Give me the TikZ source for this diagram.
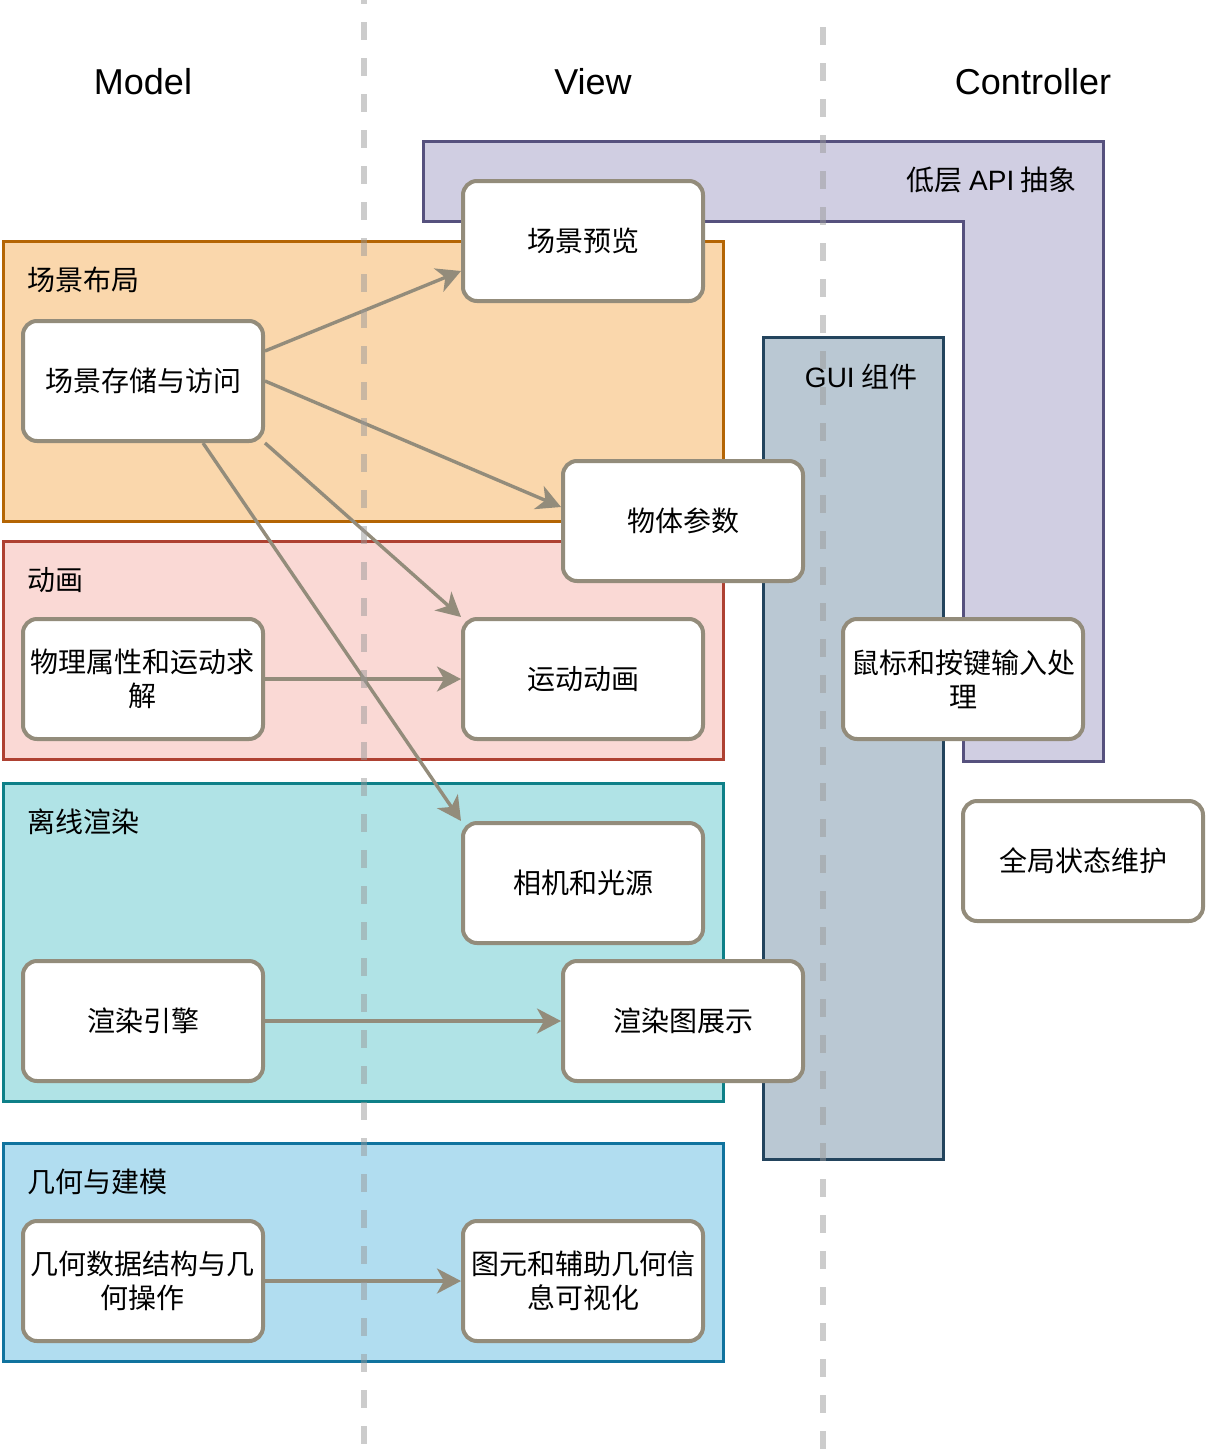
\documentclass[tikz,border=0pt]{standalone}
\usepackage{fontspec}
\setmainfont{Liberation Sans}
\newfontfamily\cjk{Noto Sans CJK SC}
\usetikzlibrary{arrows.meta}
\definecolor{nodeline}{HTML}{938C7B}
\definecolor{layoutfill}{HTML}{FAD7AC}
\definecolor{layoutline}{HTML}{B46504}
\definecolor{animfill}{HTML}{FAD9D5}
\definecolor{animline}{HTML}{AE4132}
\definecolor{renderfill}{HTML}{B0E3E6}
\definecolor{renderline}{HTML}{0E8088}
\definecolor{geomfill}{HTML}{B1DDF0}
\definecolor{geomline}{HTML}{10739E}
\definecolor{apifill}{HTML}{D0CEE2}
\definecolor{apiline}{HTML}{56517E}
\definecolor{guifill}{HTML}{BAC8D3}
\definecolor{guiline}{HTML}{23445D}
\begin{document}
\begin{tikzpicture}[
  x=0.5pt, y=-0.5pt,
  every node/.style = {font=\fontsize{14}{17}\selectfont},
  lane/.style = {line width=1.5pt},
  task/.style = {shape=rectangle, rounded corners=7pt, draw=nodeline, fill=white,
    line width=2pt, minimum width=120pt, minimum height=60pt, align=center,
    inner sep=2pt, font=\cjk\fontsize{14}{17}\selectfont},
  lanelabel/.style = {inner sep=0pt, font=\cjk\fontsize{14}{17}\selectfont},
  link/.style = {draw=nodeline, line width=1.7pt,
    -{Stealth[length=12pt,width=12.5pt,inset=3.5pt]}},
  divider/.style = {draw=black!40, opacity=0.5, line width=3pt,
    dash pattern=on 9pt off 9pt},
  header/.style = {font=\fontsize{18}{22}\selectfont}
]
  \useasboundingbox (0,0) rectangle (1206,1456);

  \node[header] (hmodel) at (143,82) {Model};
  \node[header] (hview) at (593,82) {View};
  \node[header] (hctrl) at (1033,82) {Controller};

  \draw[lane, fill=layoutfill, draw=layoutline] (3,241) rectangle (723,521);
  \draw[lane, fill=animfill, draw=animline] (3,541) rectangle (723,759);
  \draw[lane, fill=renderfill, draw=renderline] (3,783) rectangle (723,1101);
  \draw[lane, fill=geomfill, draw=geomline] (3,1143) rectangle (723,1361);
  \draw[lane, fill=apifill, draw=apiline] (423,141) -- (1103,141) -- (1103,761)
    -- (963,761) -- (963,221) -- (423,221) -- cycle;
  \draw[lane, fill=guifill, draw=guiline] (763,337) rectangle (943,1159);

  \node[lanelabel, anchor=west] (llayout) at (27,280) {场景布局};
  \node[lanelabel, anchor=west] (lanim) at (27,580) {动画};
  \node[lanelabel, anchor=west] (lrender) at (27,822) {离线渲染};
  \node[lanelabel, anchor=west] (lgeom) at (27,1182) {几何与建模};
  \node[lanelabel, anchor=east] (lapi) at (1077,180) {低层 {\fontspec{Liberation Sans}API} 抽象};
  \node[lanelabel] (lgui) at (861,377) {{\fontspec{Liberation Sans}GUI} 组件};

  \node[task] (store) at (143,381) {场景存储与访问};
  \node[task] (preview) at (583,241) {场景预览};
  \node[task] (params) at (683,521) {物体参数};
  \node[task] (physics) at (143,679) {物理属性和运动求\\解};
  \node[task] (motion) at (583,679) {运动动画};
  \node[task] (camera) at (583,883) {相机和光源};
  \node[task] (engine) at (143,1021) {渲染引擎};
  \node[task] (result) at (683,1021) {渲染图展示};
  \node[task] (geodata) at (143,1281) {几何数据结构与几\\何操作};
  \node[task] (primvis) at (583,1281) {图元和辅助几何信\\息可视化};
  \node[task] (input) at (963,679) {鼠标和按键输入处\\理};
  \node[task] (state) at (1083,861) {全局状态维护};

  \draw[link] ([yshift=15pt]store.east) -- ([yshift=-15pt]preview.west);
  \draw[link] (store.east) -- ([yshift=7pt]params.west);
  \draw[link] (store.south east) -- (motion.north west);
  \draw[link] ([xshift=30pt]store.south) -- (camera.north west);
  \draw[link] (physics) -- (motion);
  \draw[link] (engine) -- (result);
  \draw[link] (geodata) -- (primvis);

  \draw[divider, dash phase=7pt] (363.5,0) -- (363.5,1445);
  \draw[divider] (822.5,27) -- (822.5,1450);
\end{tikzpicture}
\end{document}
